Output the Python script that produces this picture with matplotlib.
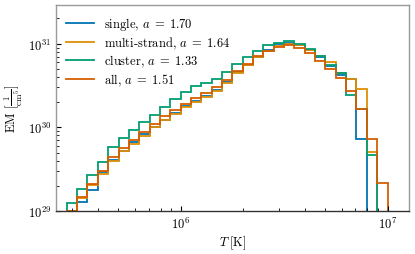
import numpy as np
import matplotlib
matplotlib.use("Agg")
import matplotlib.pyplot as plt

plt.rcParams['font.family'] = ['cmr10', 'DejaVu Serif']
plt.rcParams['mathtext.fontset'] = 'cm'
plt.rcParams['axes.formatter.use_mathtext'] = True
plt.rcParams['axes.unicode_minus'] = False

# log10 bin edges of temperature
log_edges = np.round(np.arange(5.45, 7.0001, 0.05), 3)

# log10 EM per bin
log_single = [28.99, 29.11, 29.255, 29.47, 29.61, 29.72, 29.82, 29.915, 30.01, 30.09,
              30.17, 30.25, 30.31, 30.37, 30.445, 30.54, 30.66, 30.75, 30.84, 30.93,
              31.0, 31.01, 30.98, 30.92, 30.84, 30.73, 30.63, 30.58, 29.86]
log_multi = [29.0, 29.15, 29.31, 29.443, 29.60, 29.715, 29.80, 29.90, 30.0, 30.09,
             30.16, 30.24, 30.30, 30.36, 30.43, 30.53, 30.655, 30.75, 30.84, 30.91,
             30.97, 31.0, 30.98, 30.92, 30.853, 30.78, 30.65, 30.58, 30.46, 29.71]
log_cluster = [29.096, 29.263, 29.435, 29.59, 29.76, 29.874, 29.97, 30.062, 30.153, 30.24,
               30.333, 30.425, 30.50, 30.533, 30.573, 30.661, 30.752, 30.84, 30.916, 30.98,
               31.012, 31.028, 31.0, 30.94, 30.853, 30.74, 30.65, 30.39, 30.22, 29.67]
log_all = [29.004, 29.164, 29.323, 29.483, 29.65, 29.754, 29.854, 29.942, 30.042, 30.13,
           30.213, 30.28, 30.35, 30.413, 30.48, 30.56, 30.67, 30.76, 30.85, 30.91,
           30.956, 30.98, 30.95, 30.884, 30.796, 30.70, 30.59, 30.44, 30.22, 29.86, 29.33]

labels = [r"single, $a\;=\;1.70$", r"multi-strand, $a\;=\;1.64$",
          r"cluster, $a\;=\;1.33$", r"all, $a\;=\;1.51$"]
colors = ['#0173B2', '#DE8F05', '#029E73', '#D55E00']
series = [log_single, log_multi, log_cluster, log_all]

fig = plt.figure(figsize=(4.15, 2.55), dpi=100)
ax = fig.add_axes([56/415, 1-212/255, (409-56)/415, (212-6)/255])

edges = 10**log_edges
for vals, lab, c in zip(series, labels, colors):
    v = 10**np.array(vals)
    e = edges[:len(v)+1]
    ax.stairs(v, e, baseline=1e20, color=c, lw=1.3, label=lab)

ax.set_xscale('log')
ax.set_yscale('log')
ax.set_xlim(2.5e5, 1.27e7)
ax.set_ylim(1e29, 2.9e31)
ax.set_xlabel(r"$T\;[\mathrm{K}]$", fontsize=9, labelpad=2)
ax.set_ylabel(r"EM $[\frac{1}{\mathrm{cm}^5}]$", fontsize=9, labelpad=2)
ax.tick_params(which='both', direction='in', labelsize=9)
ax.tick_params(which='major', length=3.5)
ax.tick_params(which='minor', length=2)
for s in ['left', 'top', 'right']:
    ax.spines[s].set_color('#999999')
ax.spines['bottom'].set_color('#333333')
for s in ax.spines.values():
    s.set_linewidth(1.0)

leg = ax.legend(loc='upper left', frameon=False, fontsize=9, handlelength=2.2,
                labelspacing=0.2, borderaxespad=0.4)

fig.savefig('out.png', dpi=100)
